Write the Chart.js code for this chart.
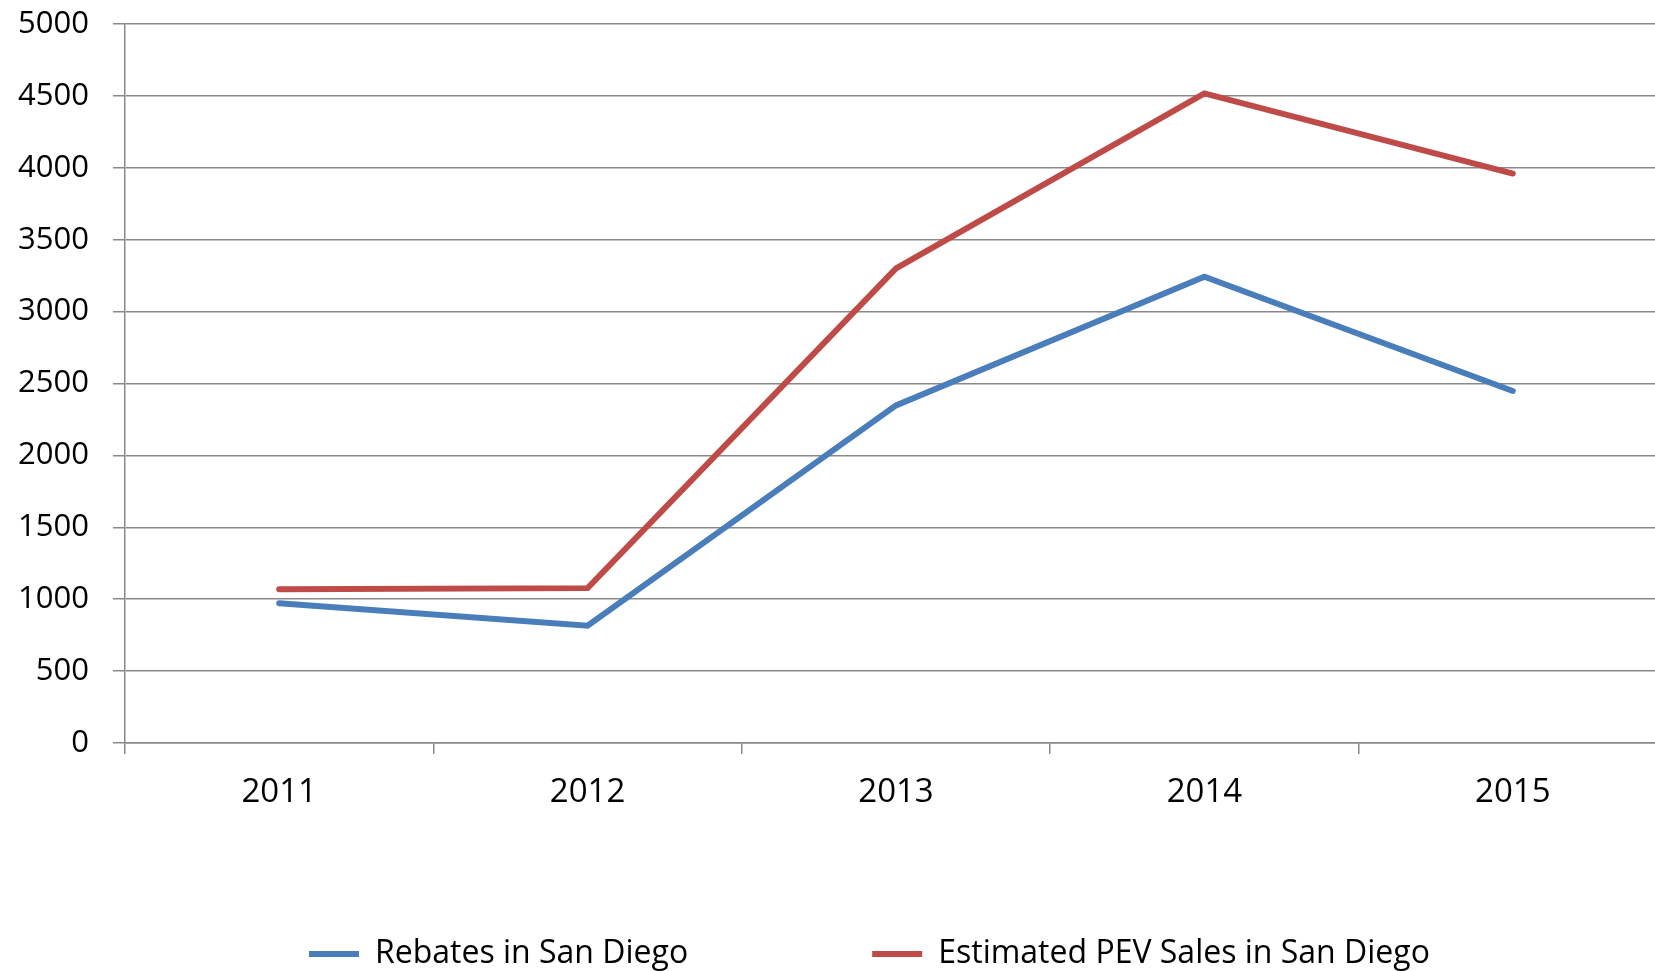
<!DOCTYPE html>
<html>
<head>
<meta charset="utf-8">
<script src="https://cdn.jsdelivr.net/npm/chart.js@4.4.0/dist/chart.umd.min.js"></script>
<style>
  html, body { margin: 0; padding: 0; background: #fff; overflow: hidden; }
  #wrap { width: 1655px; height: 971px; overflow: hidden; position: relative; }
</style>
</head>
<body>
<div id="wrap">
  <canvas id="chart" width="1667" height="980"></canvas>
</div>
<script>
// years on the x axis
var years = ['2011', '2012', '2013', '2014', '2015'];

// rebates in San Diego
var rebates = [972, 816, 2348, 3243, 2448];

// estimated PEV sales in San Diego
var pevSales = [1070, 1077, 3300, 4517, 3960];

var gridColor = '#898989';
var font = '"Open Sans", "DejaVu Sans", sans-serif';

// empty legend entry, only used to widen the gap between the two real ones
function spacer() {
    return {
        text: '',
        fillStyle: 'rgba(0,0,0,0)',
        strokeStyle: 'rgba(0,0,0,0)',
        lineWidth: 0,
        pointStyle: 'line',
        hidden: false,
        datasetIndex: -1
    };
}

var ctx = document.getElementById('chart').getContext('2d');
var chart = new Chart(ctx, {
    type: 'line',
    data: {
        labels: years,
        datasets: [
            {
                label: 'Rebates in San Diego',
                data: rebates,
                borderColor: '#4a7ebb',
                backgroundColor: '#4a7ebb',
                borderWidth: 6,
                borderCapStyle: 'round',
                pointRadius: 0,
                tension: 0
            },
            {
                label: 'Estimated PEV Sales in San Diego',
                data: pevSales,
                borderColor: '#be4b48',
                backgroundColor: '#be4b48',
                borderWidth: 6,
                borderCapStyle: 'round',
                pointRadius: 0,
                tension: 0
            }
        ]
    },
    options: {
        responsive: false,
        animation: false,
        layout: {
            padding: { top: 24, left: 0, right: 0, bottom: 0 }
        },
        plugins: {
            tooltip: { enabled: false },
            legend: {
                position: 'bottom',
                align: 'start',
                fullSize: false,
                labels: {
                    usePointStyle: true,
                    pointStyle: 'line',
                    pointStyleWidth: 50,
                    padding: 59,
                    color: '#000',
                    font: { family: font, size: 32 },
                    generateLabels: function (c) {
                        var items = Chart.defaults.plugins.legend.labels.generateLabels(c);
                        return [spacer(), items[0], spacer(), items[1]];
                    }
                }
            }
        },
        scales: {
            x: {
                offset: true,
                afterFit: function (scale) { scale.height = 136; },
                grid: {
                    offset: true,
                    drawOnChartArea: false,
                    drawTicks: true,
                    tickLength: 11,
                    color: gridColor,
                    lineWidth: 1.5
                },
                border: { display: true, color: gridColor, width: 1.5 },
                ticks: {
                    color: '#000',
                    padding: 19,
                    maxRotation: 0,
                    font: { family: font, size: 33 }
                }
            },
            y: {
                min: 0,
                max: 5000,
                afterFit: function (scale) {
                    scale.width = 125;
                    // tick padding would otherwise push the top gridline down
                    scale.paddingTop = 0;
                    scale.paddingBottom = 0;
                },
                grid: {
                    color: gridColor,
                    lineWidth: 1.5,
                    drawTicks: true,
                    tickLength: 12
                },
                border: { display: true, color: gridColor, width: 1.5 },
                ticks: {
                    stepSize: 500,
                    color: '#000',
                    padding: 24,
                    font: { family: font, size: 31 },
                    callback: function (value) { return String(value); }
                }
            }
        }
    }
});
</script>
</body>
</html>
